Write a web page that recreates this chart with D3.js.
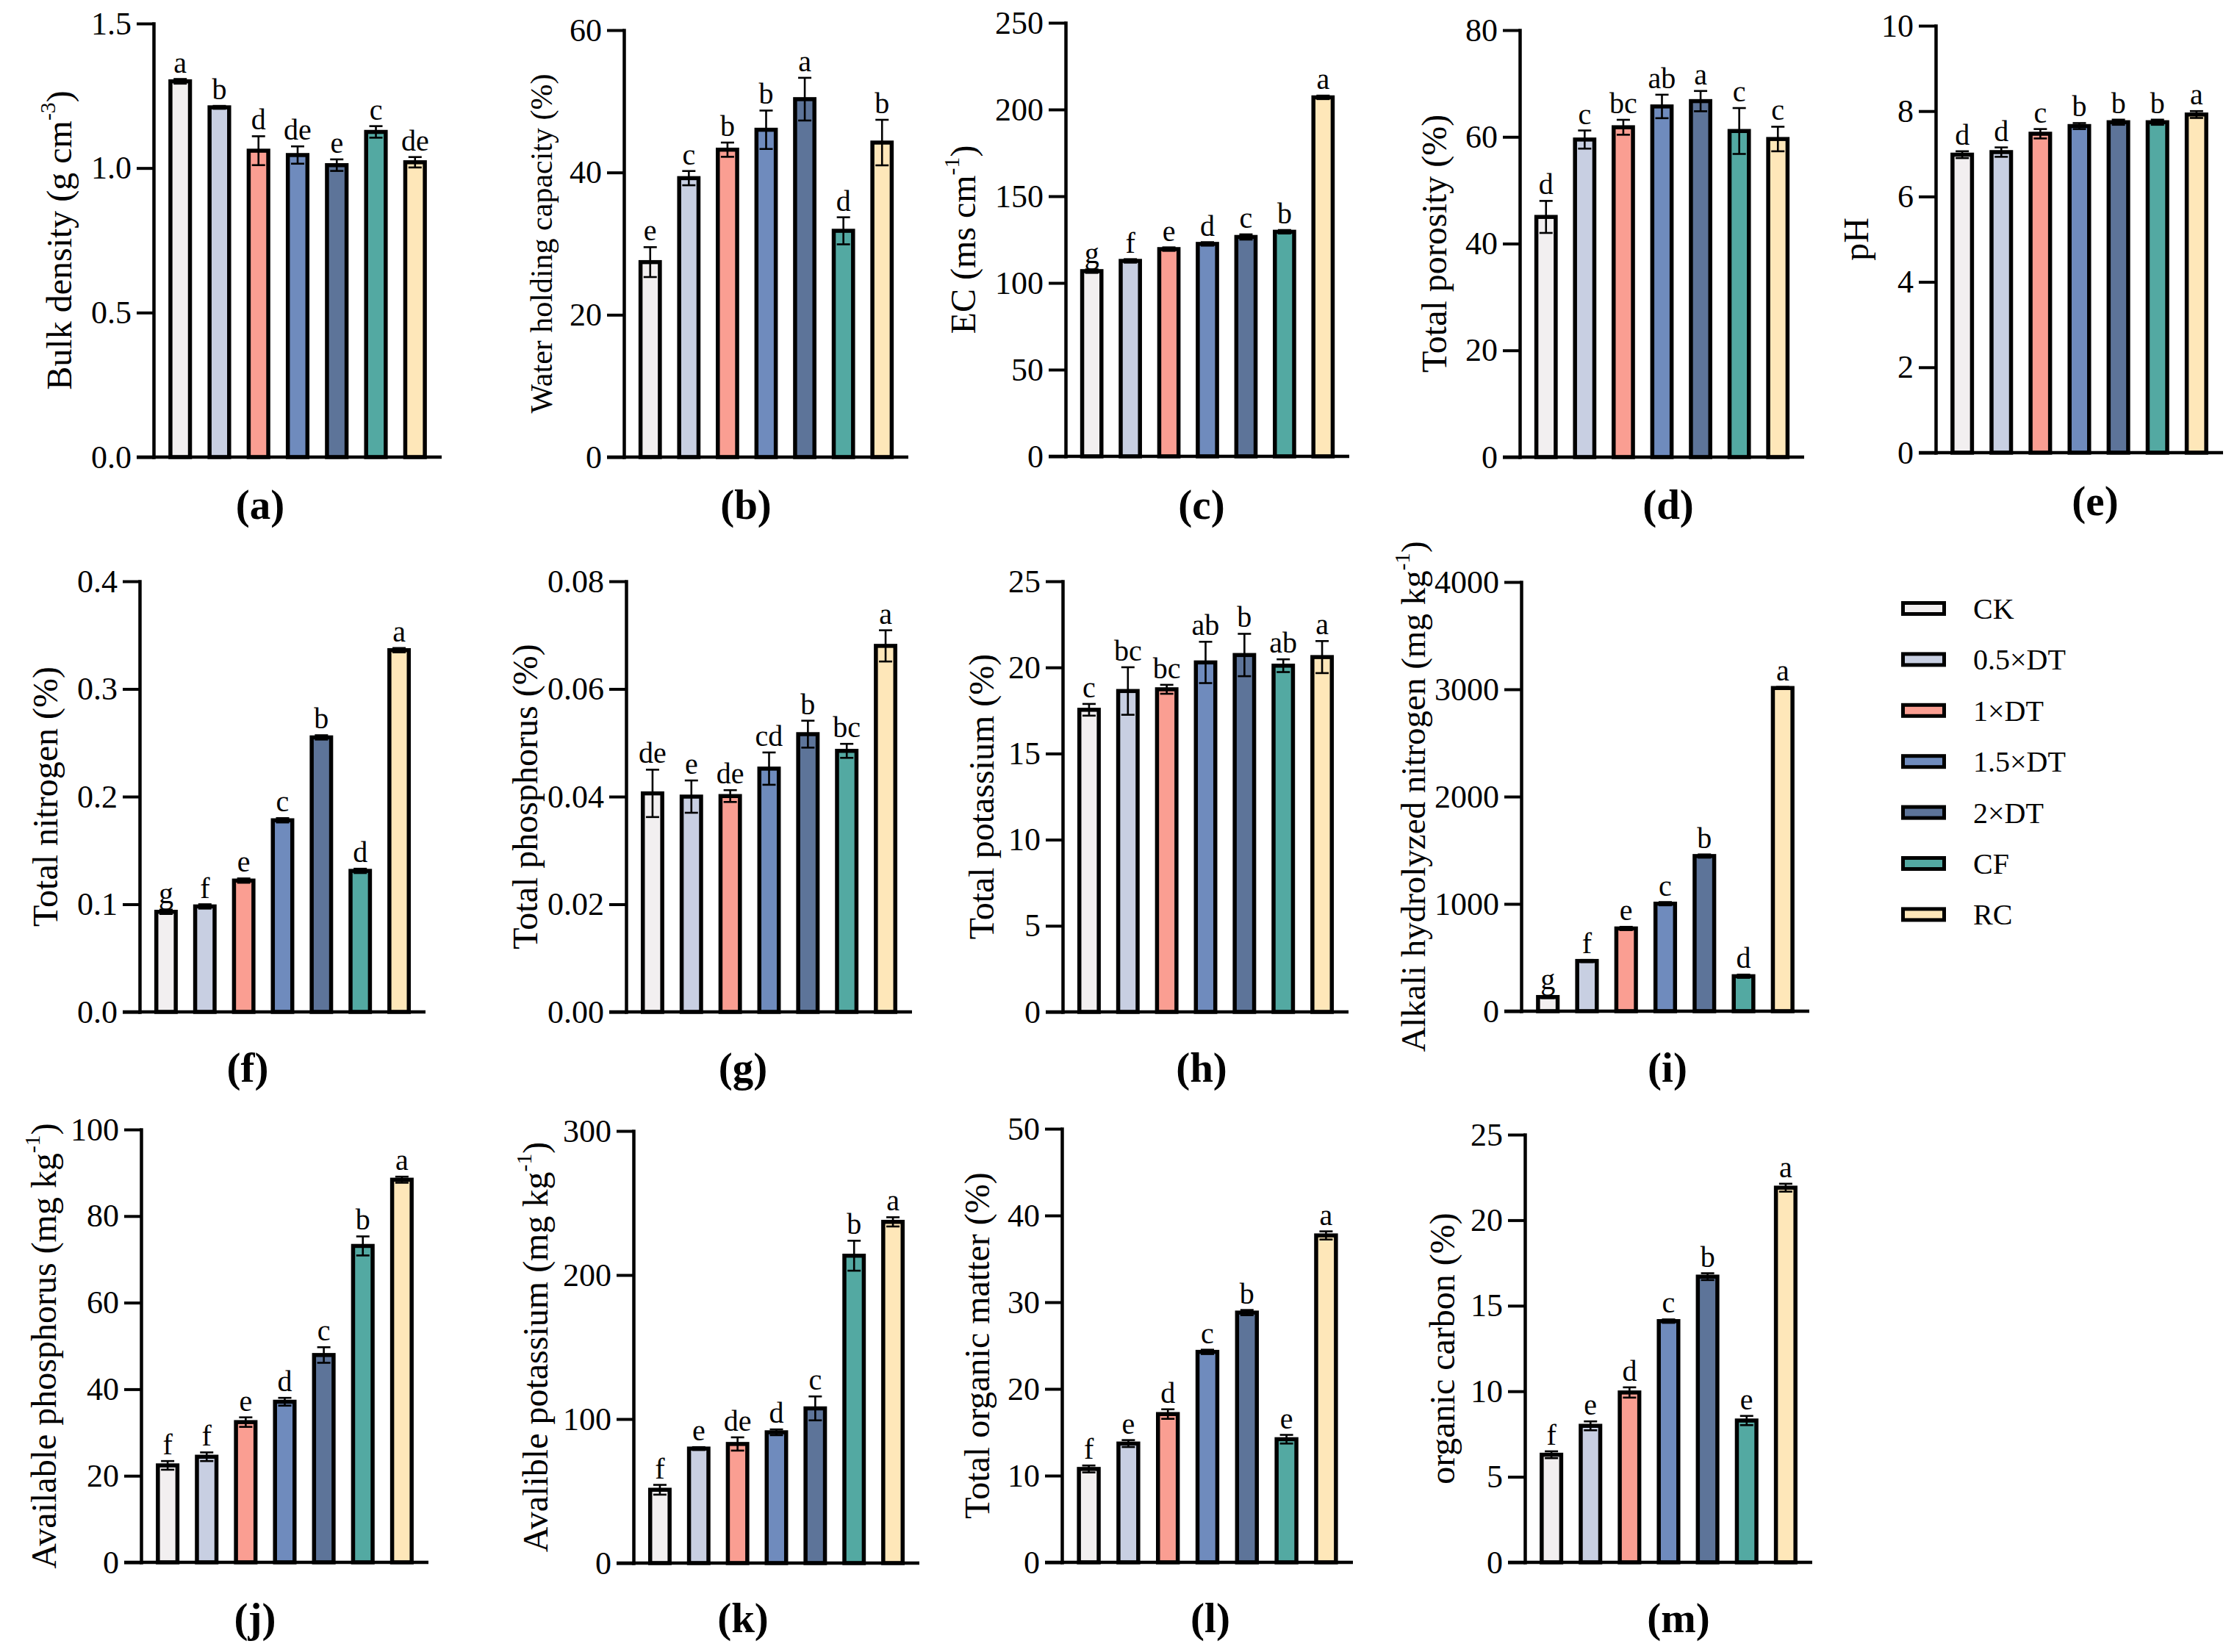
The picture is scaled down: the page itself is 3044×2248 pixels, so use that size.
<!DOCTYPE html>
<html>
<head>
<meta charset="utf-8">
<script src="https://cdn.jsdelivr.net/npm/d3@7"></script>
<style>
  body { margin: 0; background: #fff; }
  svg { display: block; font-family: "Times New Roman", "Liberation Serif", serif; }
</style>
</head>
<body>
<svg id="chart" width="3044" height="2248"></svg>
<script>
"use strict";

// treatments and their fill colours
var groups = ["CK", "0.5×DT", "1×DT", "1.5×DT", "2×DT", "CF", "RC"];
var colors = ["#f2eff0", "#c8cfe2", "#fa9e92", "#6f8bbd", "#5d7499", "#53a9a2", "#fee7b9"];

// (a) bulk density
var bulkDensity = [1.30, 1.21, 1.06, 1.045, 1.01, 1.125, 1.02];
var bulkDensitySd = [0.008, 0.005, 0.05, 0.03, 0.02, 0.02, 0.018];
var bulkDensitySig = ["a", "b", "d", "de", "e", "c", "de"];
// (b) water holding capacity
var waterHolding = [27.4, 39.2, 43.2, 46.0, 50.3, 31.8, 44.2];
var waterHoldingSd = [2.1, 1.0, 1.0, 2.7, 3.0, 1.9, 3.2];
var waterHoldingSig = ["e", "c", "b", "b", "a", "d", "b"];
// (c) EC
var ec = [106.8, 112.7, 119.5, 122.5, 126.5, 129.5, 207];
var ecSd = [1, 1, 1, 1, 1.5, 1, 1];
var ecSig = ["g", "f", "e", "d", "c", "b", "a"];
// (d) total porosity
var porosity = [45.0, 59.5, 61.8, 65.7, 66.7, 61.1, 59.6];
var porositySd = [3.0, 1.7, 1.4, 2.2, 1.9, 4.3, 2.3];
var porositySig = ["d", "c", "bc", "ab", "a", "c", "c"];
// (e) pH
var ph = [6.98, 7.04, 7.47, 7.65, 7.74, 7.74, 7.92];
var phSd = [0.08, 0.11, 0.11, 0.07, 0.06, 0.06, 0.08];
var phSig = ["d", "d", "c", "b", "b", "b", "a"];
// (f) total nitrogen
var totalN = [0.093, 0.098, 0.122, 0.178, 0.255, 0.131, 0.336];
var totalNSd = [0.002, 0.002, 0.002, 0.002, 0.002, 0.002, 0.002];
var totalNSig = ["g", "f", "e", "c", "b", "d", "a"];
// (g) total phosphorus
var totalP = [0.0406, 0.0400, 0.0401, 0.0452, 0.0516, 0.0485, 0.068];
var totalPSd = [0.0044, 0.003, 0.0011, 0.003, 0.0025, 0.0013, 0.0029];
var totalPSig = ["de", "e", "de", "cd", "b", "bc", "a"];
// (h) total potassium
var totalK = [17.54, 18.63, 18.73, 20.29, 20.72, 20.1, 20.6];
var totalKSd = [0.34, 1.38, 0.26, 1.2, 1.23, 0.37, 0.93];
var totalKSig = ["c", "bc", "bc", "ab", "b", "ab", "a"];
// (i) alkali hydrolyzed nitrogen
var alkaliN = [132, 468, 771, 1002, 1446, 326, 3012];
var alkaliNSd = [10, 10, 15, 15, 15, 15, 10];
var alkaliNSig = ["g", "f", "e", "c", "b", "d", "a"];
// (j) available phosphorus
var availP = [22.4, 24.4, 32.4, 37.1, 47.9, 73.1, 88.4];
var availPSd = [1.0, 1.0, 1.1, 0.9, 1.8, 2.2, 0.7];
var availPSig = ["f", "f", "e", "d", "c", "b", "a"];
// (k) available potassium
var availK = [50.9, 79.5, 82.7, 90.8, 107.4, 213.4, 236.9];
var availKSd = [3.4, 1, 4.6, 2, 8.3, 10.4, 3.2];
var availKSig = ["f", "e", "de", "d", "c", "b", "a"];
// (l) total organic matter
var organicMatter = [10.77, 13.7, 17.1, 24.27, 28.8, 14.2, 37.7];
var organicMatterSd = [0.4, 0.4, 0.55, 0.25, 0.3, 0.5, 0.47];
var organicMatterSig = ["f", "e", "d", "c", "b", "e", "a"];
// (m) organic carbon
var organicC = [6.29, 7.98, 9.93, 14.1, 16.7, 8.29, 21.9];
var organicCSd = [0.2, 0.26, 0.3, 0.1, 0.2, 0.27, 0.23];
var organicCSig = ["f", "e", "d", "c", "b", "e", "a"];

var panels = [
    { tag: "(a)", v: bulkDensity, sd: bulkDensitySd, sig: bulkDensitySig, max: 1.5, step: 0.5, fmt: ".1f",
      title: ["Bulk density (g cm", "-3", ")"], x0: 209, x1: 601, yt: 32, yb: 622, lx: 354, ly: 706, to: 112, ts: 48 },
    { tag: "(b)", v: waterHolding, sd: waterHoldingSd, sig: waterHoldingSig, max: 60, step: 20, fmt: "d",
      title: ["Water holding capacity (%)"], x0: 849, x1: 1236, yt: 41, yb: 622, lx: 1015, ly: 706, to: 98, ts: 42 },
    { tag: "(c)", v: ec, sd: ecSd, sig: ecSig, max: 250, step: 50, fmt: "d",
      title: ["EC (ms cm", "-1", ")"], x0: 1450, x1: 1836, yt: 31, yb: 621, lx: 1635, ly: 706, to: 123, ts: 48 },
    { tag: "(d)", v: porosity, sd: porositySd, sig: porositySig, max: 80, step: 20, fmt: "d",
      title: ["Total porosity (%)"], x0: 2068, x1: 2455, yt: 41, yb: 622, lx: 2270, ly: 706, to: 100, ts: 48 },
    { tag: "(e)", v: ph, sd: phSd, sig: phSig, max: 10, step: 2, fmt: "d",
      title: ["pH"], x0: 2634, x1: 3025, yt: 35, yb: 616, lx: 2851, ly: 701, to: 92, ts: 48 },
    { tag: "(f)", v: totalN, sd: totalNSd, sig: totalNSig, max: 0.4, step: 0.1, fmt: ".1f",
      title: ["Total nitrogen (%)"], x0: 190, x1: 579, yt: 791, yb: 1377, lx: 337, ly: 1472, to: 112, ts: 48 },
    { tag: "(g)", v: totalP, sd: totalPSd, sig: totalPSig, max: 0.08, step: 0.02, fmt: ".2f",
      title: ["Total phosphorus (%)"], x0: 852, x1: 1241, yt: 791, yb: 1377, lx: 1011, ly: 1472, to: 121, ts: 48 },
    { tag: "(h)", v: totalK, sd: totalKSd, sig: totalKSig, max: 25, step: 5, fmt: "d",
      title: ["Total potassium (%)"], x0: 1446, x1: 1835, yt: 791, yb: 1377, lx: 1635, ly: 1472, to: 94, ts: 48 },
    { tag: "(i)", v: alkaliN, sd: alkaliNSd, sig: alkaliNSig, max: 4000, step: 1000, fmt: "d",
      title: ["Alkali hydrolyzed nitrogen (mg kg", "-1", ")"], x0: 2070, x1: 2462, yt: 792, yb: 1376, lx: 2269, ly: 1472, to: 131, ts: 47 },
    { tag: "(j)", v: availP, sd: availPSd, sig: availPSig, max: 100, step: 20, fmt: "d",
      title: ["Available phosphorus (mg kg", "-1", ")"], x0: 192, x1: 583, yt: 1537, yb: 2126, lx: 347, ly: 2221, to: 116, ts: 48 },
    { tag: "(k)", v: availK, sd: availKSd, sig: availKSig, max: 300, step: 100, fmt: "d",
      title: ["Avalible potassium (mg kg", "-1", ")"], x0: 862, x1: 1251, yt: 1539, yb: 2127, lx: 1011, ly: 2221, to: 117, ts: 48 },
    { tag: "(l)", v: organicMatter, sd: organicMatterSd, sig: organicMatterSig, max: 50, step: 10, fmt: "d",
      title: ["Total organic matter (%)"], x0: 1445, x1: 1841, yt: 1536, yb: 2126, lx: 1647, ly: 2221, to: 99, ts: 48 },
    { tag: "(m)", v: organicC, sd: organicCSd, sig: organicCSig, max: 25, step: 5, fmt: "d",
      title: ["organic carbon (%)"], x0: 2075, x1: 2466, yt: 1544, yb: 2126, lx: 2284, ly: 2221, to: 96, ts: 48 }
];

var svg = d3.select("#chart");
svg.append("rect").attr("width", 3044).attr("height", 2248).attr("fill", "#fff");

var tickLen = 23;

panels.forEach(function (p) {
    var w = p.x1 - p.x0;
    var g = svg.append("g").attr("transform", "translate(" + p.x0 + ",0)");

    var x = d3.scaleBand()
        .domain(groups)
        .range([0, w])
        .paddingInner(0.5)
        .paddingOuter(0.43);

    var y = d3.scaleLinear()
        .domain([0, p.max])
        .range([p.yb, p.yt]);

    var rows = groups.map(function (name, i) {
        return { name: name, v: p.v[i], sd: p.sd[i], sig: p.sig[i], color: colors[i] };
    });

    // bars
    g.selectAll("rect.bar")
        .data(rows)
        .enter().append("rect")
        .attr("class", "bar")
        .attr("x", function (d) { return x(d.name); })
        .attr("width", x.bandwidth())
        .attr("y", function (d) { return y(d.v); })
        .attr("height", function (d) { return y(0) - y(d.v); })
        .attr("fill", function (d) { return d.color; })
        .attr("stroke", "#000")
        .attr("stroke-width", 5.5);

    // error bars
    var cap = 9;
    var err = g.selectAll("g.err")
        .data(rows)
        .enter().append("g")
        .attr("class", "err")
        .attr("stroke", "#000")
        .attr("stroke-width", 2.6);
    err.append("line")
        .attr("x1", function (d) { return x(d.name) + x.bandwidth() / 2; })
        .attr("x2", function (d) { return x(d.name) + x.bandwidth() / 2; })
        .attr("y1", function (d) { return y(d.v - d.sd); })
        .attr("y2", function (d) { return y(d.v + d.sd); });
    err.append("line")
        .attr("x1", function (d) { return x(d.name) + x.bandwidth() / 2 - cap; })
        .attr("x2", function (d) { return x(d.name) + x.bandwidth() / 2 + cap; })
        .attr("y1", function (d) { return y(d.v + d.sd); })
        .attr("y2", function (d) { return y(d.v + d.sd); });
    err.append("line")
        .attr("x1", function (d) { return x(d.name) + x.bandwidth() / 2 - cap; })
        .attr("x2", function (d) { return x(d.name) + x.bandwidth() / 2 + cap; })
        .attr("y1", function (d) { return y(d.v - d.sd); })
        .attr("y2", function (d) { return y(d.v - d.sd); });

    // significance letters
    g.selectAll("text.sig")
        .data(rows)
        .enter().append("text")
        .attr("class", "sig")
        .attr("x", function (d) { return x(d.name) + x.bandwidth() / 2; })
        .attr("y", function (d) { return y(d.v + d.sd) - 9; })
        .attr("text-anchor", "middle")
        .attr("font-size", 40)
        .text(function (d) { return d.sig; });

    // y axis
    var ticks = d3.range(0, p.max + p.step / 2, p.step);
    var yAxis = d3.axisLeft(y)
        .tickValues(ticks)
        .tickFormat(d3.format(p.fmt))
        .tickSize(tickLen)
        .tickSizeOuter(0)
        .tickPadding(7);
    var ya = g.append("g").call(yAxis);
    ya.select(".domain").attr("stroke-width", 4.5).attr("stroke-linecap", "square");
    ya.selectAll(".tick line").attr("stroke-width", 4);
    ya.selectAll(".tick text")
        .attr("font-family", "'Times New Roman', 'Liberation Serif', serif")
        .attr("font-size", 44)
        .attr("fill", "#000");

    // x axis line
    g.append("line")
        .attr("x1", -tickLen)
        .attr("x2", w)
        .attr("y1", y(0))
        .attr("y2", y(0))
        .attr("stroke", "#000")
        .attr("stroke-width", 4.5);

    // y title
    var t = g.append("text")
        .attr("transform", "translate(" + (-p.to) + "," + ((p.yt + p.yb) / 2) + ")rotate(-90)")
        .attr("text-anchor", "middle")
        .attr("font-size", p.ts);
    t.append("tspan").text(p.title[0]);
    if (p.title.length > 1) {
        t.append("tspan")
            .attr("font-size", p.ts * 0.62)
            .attr("dy", -p.ts * 0.45)
            .text(p.title[1]);
        t.append("tspan")
            .attr("dy", p.ts * 0.45)
            .text(p.title[2]);
    }

    // panel tag
    svg.append("text")
        .attr("x", p.lx)
        .attr("y", p.ly)
        .attr("text-anchor", "middle")
        .attr("font-size", 57)
        .attr("font-weight", "bold")
        .text(p.tag);
});

// legend
var legend = svg.append("g").attr("transform", "translate(2587,828)");
var item = legend.selectAll("g")
    .data(groups)
    .enter().append("g")
    .attr("transform", function (d, i) { return "translate(0," + (i * 69.4) + ")"; });
item.append("rect")
    .attr("x", 2.5)
    .attr("y", -7.5)
    .attr("width", 56)
    .attr("height", 15)
    .attr("fill", function (d, i) { return colors[i]; })
    .attr("stroke", "#000")
    .attr("stroke-width", 5);
item.append("text")
    .attr("x", 98)
    .attr("dy", "0.35em")
    .attr("font-size", 40)
    .text(function (d) { return d; });
</script>
</body>
</html>
